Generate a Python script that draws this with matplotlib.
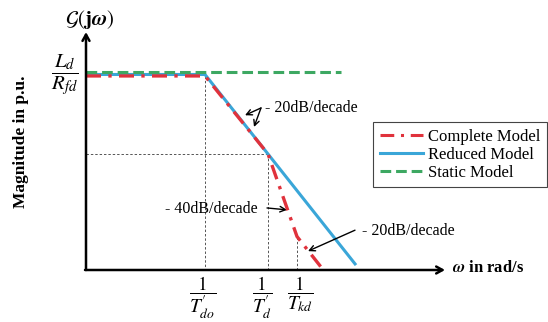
import matplotlib
matplotlib.use("Agg")
import matplotlib.pyplot as plt
from matplotlib.lines import Line2D

plt.rcParams['font.family'] = ['Liberation Serif', 'DejaVu Serif']
plt.rcParams['mathtext.fontset'] = 'stix'

# ---- data (x: log10 of omega, y: magnitude in dB, schematic) ----
axis_x = -1.19           # log10(omega) at vertical axis
axis_y = -30.87          # magnitude at horizontal axis
x_end = 2.40             # end of horizontal axis arrow
y_end = 6.6              # end of vertical axis arrow

corner_x = [0.0, 0.63, 0.92]   # 1/T'do, 1/T'd, 1/Tkd
corner_labels = [r"$\dfrac{1}{T^{\prime}_{do}}$",
                 r"$\dfrac{1}{T^{\prime}_{d}}$",
                 r"$\dfrac{1}{T_{kd}}$"]
label_shift = [-0.02, -0.06, 0.035]

complete_x = [-1.19, 0.0, 0.63, 0.92, 1.17]
complete_y = [-0.31, -0.31, -12.6, -25.6, -30.6]

reduced_x = [-1.19, 0.0, 1.51]
reduced_y = [-0.08, -0.08, -30.1]

static_x = [-1.19, 1.36]
static_y = [0.24, 0.24]

series_names = ["Complete Model", "Reduced Model", "Static Model"]
red = "#E0323C"
blue = "#3AA6D8"
green = "#3DA862"

fig = plt.figure(figsize=(5.48, 3.22), dpi=100)
ax = fig.add_axes([0, 0, 1, 1])
ax.set_xlim(-2.05, 3.43)
ax.set_ylim(-39.06, 11.65)
ax.axis('off')

# guide lines
gkw = dict(color="#555555", lw=0.7, dashes=(2.5, 2), zorder=1)
ax.plot([corner_x[0], corner_x[0]], [complete_y[1], axis_y], **gkw)
ax.plot([axis_x, corner_x[1]], [complete_y[2], complete_y[2]], **gkw)
ax.plot([corner_x[1], corner_x[1]], [complete_y[2], axis_y], **gkw)
ax.plot([corner_x[2], corner_x[2]], [complete_y[3], axis_y], **gkw)

# curves
ax.plot(reduced_x, reduced_y, color=blue, lw=2.2, zorder=3, label=series_names[1],
        solid_capstyle='butt')
ax.plot(complete_x, complete_y, color=red, lw=2.4, zorder=4, dashes=(4.5, 2.2, 1, 2.2),
        label=series_names[0])
ax.plot(static_x, static_y, color=green, lw=2.2, zorder=5, dashes=(3.5, 1.6),
        label=series_names[2])

# axes with arrows
akw = dict(arrowstyle="->,head_length=0.45,head_width=0.25", color="black", lw=1.8,
           shrinkA=0, shrinkB=0)
ax.annotate("", xy=(axis_x, y_end), xytext=(axis_x, axis_y), arrowprops=akw, zorder=6)
ax.annotate("", xy=(x_end, axis_y), xytext=(axis_x - 0.01, axis_y), arrowprops=akw, zorder=6)

# tick labels
for cx, lab, sh in zip(corner_x, corner_labels, label_shift):
    ax.text(cx + sh, axis_y - 0.7, lab, ha='center', va='top', fontsize=14)

ax.text(-1.40, -0.3, r"$\dfrac{L_d}{R_{fd}}$", ha='center', va='center', fontsize=15)
ax.text(-1.15, 8.6, r"$\mathcal{G}(\mathbf{j}\boldsymbol{\omega})$", ha='center', va='center',
        fontsize=15)
ax.text(-1.84, -10.7, "Magnitude in p.u.", rotation=90, ha='center', va='center',
        fontsize=12.5, fontweight='bold')
ax.text(2.47, axis_y + 0.3, r"$\boldsymbol{\omega}$ in rad/s", ha='left', va='center',
        fontsize=12, fontweight='bold')

# slope annotations
tkw = dict(fontsize=11.5, va='center')
ax.text(0.60, -5.35, "- 20dB/decade", ha='left', **tkw)
arw = dict(arrowstyle="->,head_length=0.4,head_width=0.2", color="black", lw=1.0,
           shrinkA=0, shrinkB=0)
ax.annotate("", xy=(0.40, -6.5), xytext=(0.56, -5.35), arrowprops=arw)
ax.annotate("", xy=(0.49, -8.35), xytext=(0.56, -5.35), arrowprops=arw)

ax.text(0.53, -21.3, "- 40dB/decade", ha='right', **tkw)
ax.annotate("", xy=(0.82, -21.4), xytext=(0.62, -21.1), arrowprops=arw)

ax.text(1.57, -24.75, "- 20dB/decade", ha='left', **tkw)
ax.annotate("", xy=(1.03, -27.9), xytext=(1.50, -24.6), arrowprops=arw)

# legend
handles = [Line2D([], [], color=red, lw=2.2, dashes=(4.5, 2.2, 1, 2.2)),
           Line2D([], [], color=blue, lw=2.2),
           Line2D([], [], color=green, lw=2.2, dashes=(3.5, 1.6))]
leg = ax.legend(handles, series_names, loc='upper left',
                bbox_to_anchor=(373 / 548, 1 - 122 / 322), bbox_transform=fig.transFigure,
                borderaxespad=0, fancybox=False, framealpha=1, edgecolor="#444444",
                fontsize=12, handlelength=2.6, handletextpad=0.3, labelspacing=0.12,
                borderpad=0.4)
leg.get_frame().set_linewidth(0.8)

fig.savefig("out.png", dpi=100)
